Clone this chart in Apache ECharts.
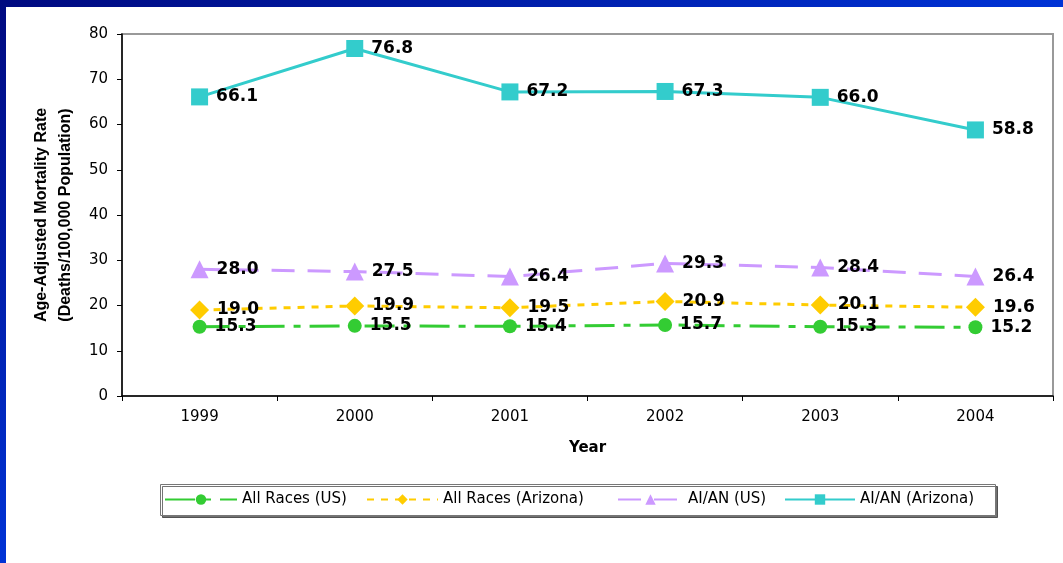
<!DOCTYPE html>
<html>
<head>
<meta charset="utf-8">
<script src="https://cdn.jsdelivr.net/npm/echarts@6/dist/echarts.min.js"></script>
<style>
  html, body { margin: 0; padding: 0; background: #fff; }
  #chart { width: 1063px; height: 563px; }
</style>
</head>
<body>
<div id="chart"></div>
<script>
// data
var years = ['1999', '2000', '2001', '2002', '2003', '2004']
var allRacesUS = [15.3, 15.5, 15.4, 15.7, 15.3, 15.2]
var allRacesAZ = [19.0, 19.9, 19.5, 20.9, 20.1, 19.6]
var aianUS = [28.0, 27.5, 26.4, 29.3, 28.4, 26.4]
var aianAZ = [66.1, 76.8, 67.2, 67.3, 66.0, 58.8]
var seriesNames = ['All Races (US)', 'All Races (Arizona)', 'AI/AN (US)', 'AI/AN (Arizona)']

var arial = 'Arial, "Liberation Sans", sans-serif'
var wide = '"DejaVu Sans", Arial, sans-serif'

var myChart = echarts.init(document.getElementById('chart'))

function lineSeries(name, data, color, dash, symbol, size) {
  return {
    name: name,
    type: 'line',
    data: data,
    symbol: symbol,
    symbolSize: size,
    showAllSymbol: true,
    lineStyle: { color: color, width: 3, type: dash },
    itemStyle: { color: color },
    emphasis: { disabled: true },
    label: {
      show: true,
      position: 'right',
      distance: 8,
      color: '#000',
      fontFamily: wide,
      fontSize: 17,
      fontWeight: 'bold',
      formatter: function (p) { return p.value.toFixed(1) }
    }
  }
}

// one legend per entry so each one sits where it does in the picture
var legendLeft = [164, 366, 617, 784]
var legendIconW = [72, 71, 65, 70]
var legends = seriesNames.map(function (n, i) {
  return {
    left: legendLeft[i],
    top: 492,
    padding: 0,
    itemWidth: legendIconW[i],
    itemHeight: 13,
    textStyle: { fontFamily: wide, fontSize: 15, color: '#000' },
    data: [n]
  }
})

var option = {
  animation: false,
  backgroundColor: '#fff',
  graphic: [
    { // blue band at the top
      type: 'rect', left: 0, top: 0, z: 100,
      shape: { width: 1063, height: 7 },
      style: {
        fill: new echarts.graphic.LinearGradient(0, 0, 1, 0, [
          { offset: 0, color: '#000a80' },
          { offset: 1, color: '#0033d6' }
        ])
      }
    },
    { // blue strip on the left
      type: 'rect', left: 0, top: 0, z: 100,
      shape: { width: 6, height: 563 },
      style: {
        fill: new echarts.graphic.LinearGradient(0, 0, 0, 1, [
          { offset: 0, color: '#000a80' },
          { offset: 1, color: '#0033d6' }
        ])
      }
    },
    { // legend frame
      type: 'rect', left: 160, top: 484, z: -1,
      shape: { width: 835, height: 31 },
      style: {
        fill: '#fff', stroke: '#777', lineWidth: 1,
        shadowColor: 'rgba(0,0,0,0.55)', shadowOffsetX: 2, shadowOffsetY: 2, shadowBlur: 0
      }
    }
  ],
  grid: {
    left: 122,
    right: 10,
    top: 34,
    bottom: 167,
    show: true,
    borderColor: '#999',
    borderWidth: 2
  },
  legend: legends,
  xAxis: {
    type: 'category',
    data: years,
    boundaryGap: true,
    name: 'Year',
    nameLocation: 'middle',
    nameGap: 45,
    nameTextStyle: { fontFamily: wide, fontSize: 15, fontWeight: 'bold', color: '#000' },
    axisLine: { lineStyle: { color: '#000', width: 1.5 } },
    axisTick: { show: true, length: 5, lineStyle: { color: '#000' } },
    axisLabel: { fontFamily: wide, fontSize: 15, color: '#000', margin: 14 },
    splitLine: { show: false }
  },
  yAxis: {
    type: 'value',
    min: 0,
    max: 80,
    interval: 10,
    name: 'Age-Adjusted Mortality Rate\n(Deaths/100,000 Population)',
    nameLocation: 'middle',
    nameRotate: 90,
    nameGap: 42,
    nameTextStyle: { fontFamily: arial, fontSize: 16, fontWeight: 'bold', color: '#000', lineHeight: 24 },
    axisLine: { show: true, lineStyle: { color: '#000', width: 1.5 } },
    axisTick: { show: true, length: 5, lineStyle: { color: '#000' } },
    axisLabel: { fontFamily: wide, fontSize: 15, color: '#000', margin: 14 },
    splitLine: { show: false }
  },
  series: [
    lineSeries(seriesNames[0], allRacesUS, '#33cc33', [30, 9, 7, 9], 'circle', 14),
    lineSeries(seriesNames[1], allRacesAZ, '#ffcc00', [7, 7], 'diamond', 19),
    lineSeries(seriesNames[2], aianUS, '#cc99ff', [23, 13], 'triangle', 18),
    lineSeries(seriesNames[3], aianAZ, '#33cccc', 'solid', 'rect', 17)
  ]
}

myChart.setOption(option)
</script>
</body>
</html>
